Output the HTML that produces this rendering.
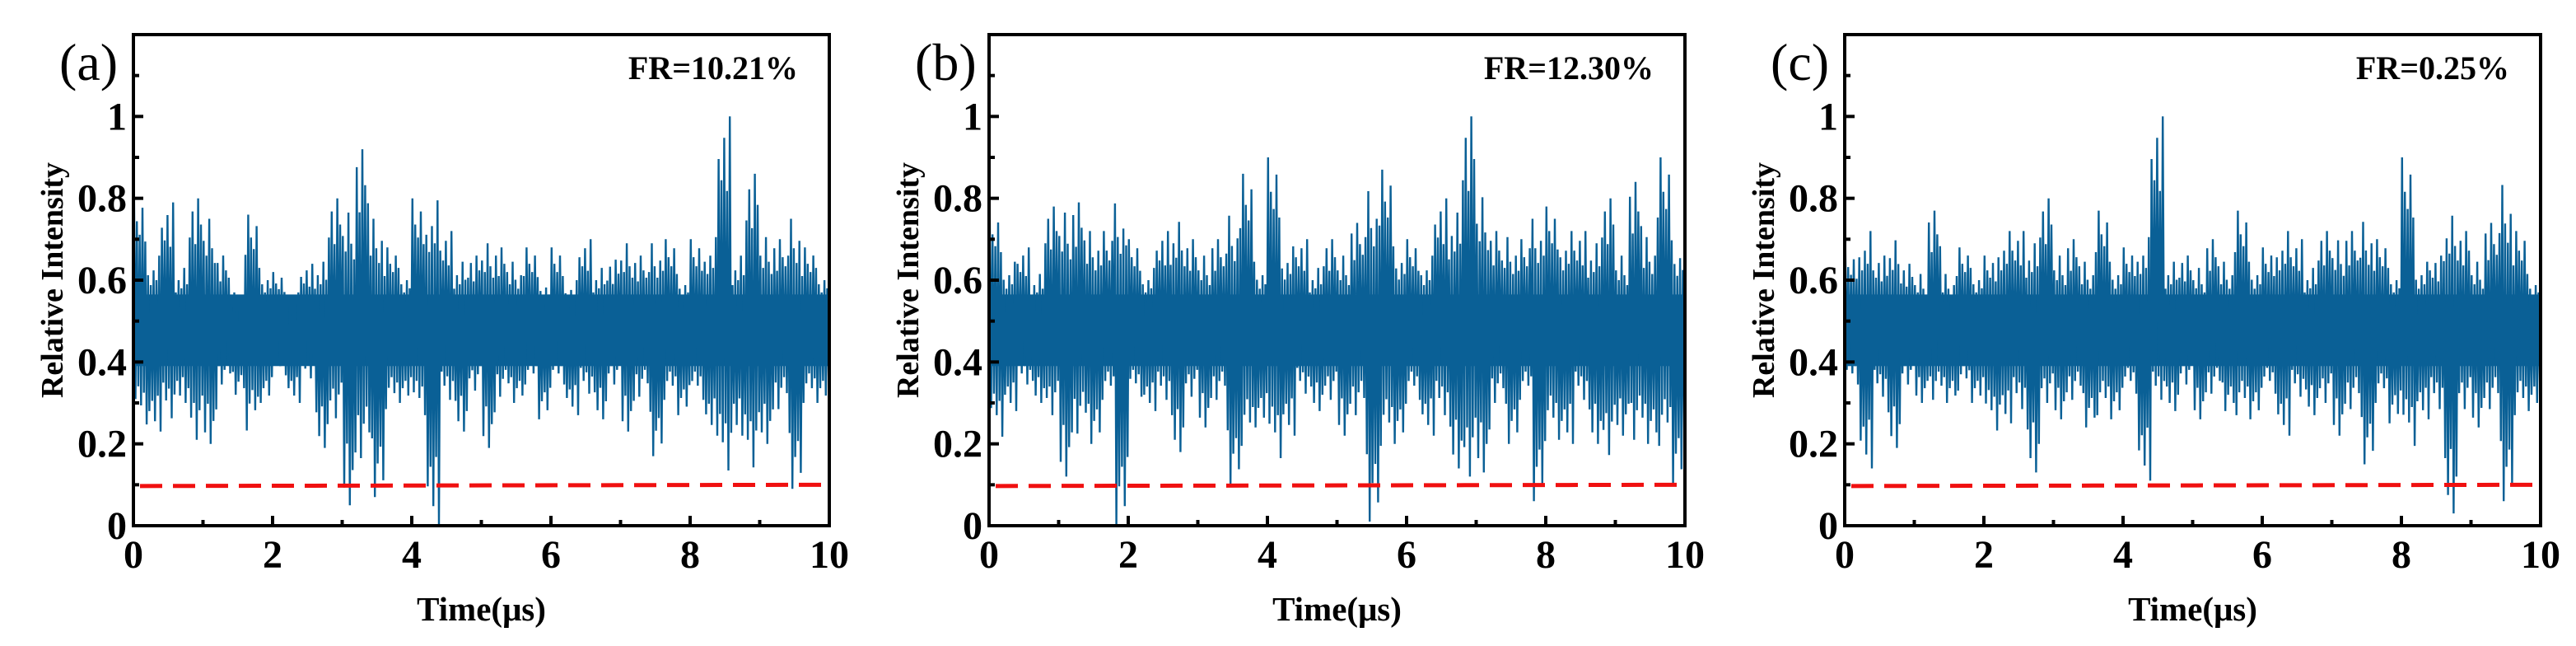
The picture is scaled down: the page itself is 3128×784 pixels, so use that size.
<!DOCTYPE html>
<html><head><meta charset="utf-8">
<style>
html,body{margin:0;padding:0;background:#fff;}
svg{display:block;}
text{font-family:"Liberation Serif",serif;fill:#000;}
</style></head>
<body>
<svg id="fig" width="3128" height="784" viewBox="0 0 3128 784" xmlns="http://www.w3.org/2000/svg"></svg>
<script>
const panelLabels = ["(a)", "(b)", "(c)"];
const frLabels = ["FR=10.21%", "FR=12.30%", "FR=0.25%"];
const binTimes = [0.1,0.3,0.5,0.7,0.9,1.1,1.3,1.5,1.7,1.9,2.1,2.3,2.5,2.7,2.9,3.1,3.3,3.5,3.7,3.9,4.1,4.3,4.5,4.7,4.9,5.1,5.3,5.5,5.7,5.9,6.1,6.3,6.5,6.7,6.9,7.1,7.3,7.5,7.7,7.9,8.1,8.3,8.5,8.7,8.9,9.1,9.3,9.5,9.7,9.9];
const upperA = [0.81,0.72,0.79,0.68,0.8,0.84,0.66,0.6,0.76,0.68,0.62,0.6,0.64,0.7,0.8,0.86,0.92,0.84,0.68,0.68,0.8,0.9,0.72,0.7,0.66,0.76,0.68,0.7,0.68,0.65,0.68,0.64,0.7,0.68,0.65,0.76,0.66,0.76,0.7,0.66,0.7,0.78,1.0,0.72,0.86,0.78,0.7,0.84,0.68,0.68];
const lowerA = [0.17,0.23,0.19,0.3,0.12,0.2,0.3,0.32,0.15,0.3,0.33,0.3,0.32,0.19,0.19,0.05,0.06,0.07,0.22,0.3,0.2,0.0,0.25,0.23,0.28,0.19,0.26,0.3,0.3,0.26,0.3,0.27,0.27,0.26,0.3,0.23,0.26,0.17,0.25,0.27,0.25,0.22,0.02,0.22,0.03,0.2,0.22,0.09,0.24,0.3];
const upperB = [0.77,0.7,0.68,0.66,0.78,0.86,0.79,0.8,0.72,0.89,0.7,0.68,0.72,0.83,0.7,0.72,0.7,0.85,0.86,0.7,0.9,0.75,0.7,0.68,0.7,0.72,0.74,0.93,0.87,0.75,0.7,0.72,0.8,0.86,1.0,0.91,0.72,0.78,0.7,0.84,0.78,0.8,0.72,0.76,0.8,0.72,0.84,0.78,0.9,0.77];
const lowerB = [0.13,0.28,0.3,0.3,0.2,0.12,0.14,0.2,0.25,0.0,0.26,0.28,0.25,0.18,0.26,0.24,0.25,0.1,0.1,0.24,0.06,0.22,0.27,0.28,0.25,0.22,0.2,0.01,0.1,0.2,0.25,0.22,0.2,0.14,0.0,0.13,0.24,0.2,0.25,0.06,0.12,0.2,0.25,0.2,0.07,0.22,0.12,0.2,0.1,0.1];
const upperC = [0.67,0.8,0.66,0.77,0.64,0.66,0.77,0.66,0.68,0.68,0.66,0.8,0.72,0.76,0.8,0.72,0.7,0.7,0.77,0.7,0.68,0.78,1.0,0.7,0.66,0.68,0.7,0.7,0.77,0.7,0.68,0.8,0.7,0.68,0.72,0.77,0.72,0.83,0.7,0.68,0.9,0.7,0.66,0.85,0.72,0.7,0.74,0.95,0.72,0.66];
const lowerC = [0.3,0.14,0.26,0.19,0.3,0.3,0.25,0.3,0.28,0.3,0.15,0.25,0.22,0.13,0.24,0.26,0.25,0.24,0.2,0.26,0.27,0.11,0.25,0.28,0.3,0.26,0.27,0.28,0.2,0.26,0.27,0.22,0.26,0.27,0.24,0.22,0.22,0.15,0.24,0.25,0.1,0.26,0.22,0.03,0.22,0.24,0.22,0.06,0.2,0.28];
const thresholdStart = [0.097,0.097,0.097];
const thresholdEnd = [0.1,0.1,0.1];
const xTickVals = [0,2,4,6,8,10];
const xTickLabels = ["0","2","4","6","8","10"];
const yTickVals = [0,0.2,0.4,0.6,0.8,1];
const yTickLabels = ["0","0.2","0.4","0.6","0.8","1"];
const coreHi = 0.565, coreLo = 0.39;
const center = 0.48;

const NS = "http://www.w3.org/2000/svg";
const svg = document.getElementById("fig");
function mk(tag, attrs, parent){const e=document.createElementNS(NS,tag);for(const k in attrs)e.setAttribute(k,attrs[k]);(parent||svg).appendChild(e);return e;}

const lefts=[162,1201,2240], W=845, TOP=42, BOT=638;
const X0=0,X1=10,Y0=0,Y1=1.2;
const uppers=[upperA,upperB,upperC], lowers=[lowerA,lowerB,lowerC];
const BLUE="#0a6096";
const spread=[1,0.55,0.8,0.45,0.7,0.6,0.9,0.5,0.65,0.75];

for(let p=0;p<3;p++){
  const L=lefts[p];
  const sx=v=>L+(v-X0)/(X1-X0)*W;
  const sy=v=>BOT-(v-Y0)/(Y1-Y0)*(BOT-TOP);
  const g=mk("g",{});
  
  

  const core=mk("rect",{x:sx(0),y:sy(coreHi),width:sx(10)-sx(0),height:sy(coreLo)-sy(coreHi),fill:BLUE},g);
  
  

  const up=uppers[p], lo=lowers[p];
  let pts=[];
  const n=spread.length;
  for(let i=0;i<binTimes.length;i++){
    const t=binTimes[i];
    for(let k=0;k<n;k++){
      const f=spread[(k+i)%n];
      const tt=Math.min(10,Math.max(0,t-0.1+0.2*(k+0.5)/n));
      const v = (k%2===0) ? center+(up[i]-center)*f : center+(lo[i]-center)*f;
      pts.push(sx(tt).toFixed(1)+","+sy(v).toFixed(1));
    }
  }
  const s1=mk("polyline",{points:pts.join(" "),fill:"none",stroke:BLUE,"stroke-width":2.4,"stroke-linejoin":"miter"},g);
  
  

  const th=mk("line",{x1:sx(0)+8,y1:sy(thresholdStart[p]),x2:sx(10)-6,y2:sy(thresholdEnd[p]),stroke:"#f01010","stroke-width":5,"stroke-dasharray":"27 13"},g);
  
  

  const fr=mk("rect",{x:L,y:TOP,width:W,height:BOT-TOP,fill:"none",stroke:"#000","stroke-width":4},g);
  
  

  for(let v=0;v<=10;v++){
    const major=v%2===0;
    const tk=mk("line",{x1:sx(v),x2:sx(v),y1:BOT,y2:BOT-(major?12:7),stroke:"#000","stroke-width":4},g);
    
    
  }
  xTickVals.forEach((v,i)=>{
    const t=mk("text",{x:sx(v),y:689,"text-anchor":"middle","font-size":48,"font-weight":"bold"},g);
    t.textContent=xTickLabels[i];
    
    
  });
  for(let k=0;k<=11;k++){
    const v=k/10, major=k%2===0;
    const tk=mk("line",{x1:L,x2:L+(major?12:7),y1:sy(v),y2:sy(v),stroke:"#000","stroke-width":4},g);
    
    
  }
  yTickVals.forEach((v,i)=>{
    const t=mk("text",{x:L-8,y:sy(v)+16,"text-anchor":"end","font-size":48,"font-weight":"bold"},g);
    t.textContent=yTickLabels[i];
    
    
  });
  const xt=mk("text",{x:L+W/2,y:753,"text-anchor":"middle","font-size":41,"font-weight":"bold"},g);
  xt.textContent="Time(μs)";
  
  
  const yt=mk("text",{x:0,y:0,"text-anchor":"middle","font-size":38,"font-weight":"bold",transform:`translate(${L-86},340) rotate(-90)`},g);
  yt.textContent="Relative Intensity";
  
  
  const pl=mk("text",{x:L-90,y:97,"font-size":64},g);
  pl.textContent=panelLabels[p];
  
  
  const fl=mk("text",{x:L+W-38,y:96,"text-anchor":"end","font-size":40,"font-weight":"bold"},g);
  fl.textContent=frLabels[p];
  
  
}
</script>
</body></html>
